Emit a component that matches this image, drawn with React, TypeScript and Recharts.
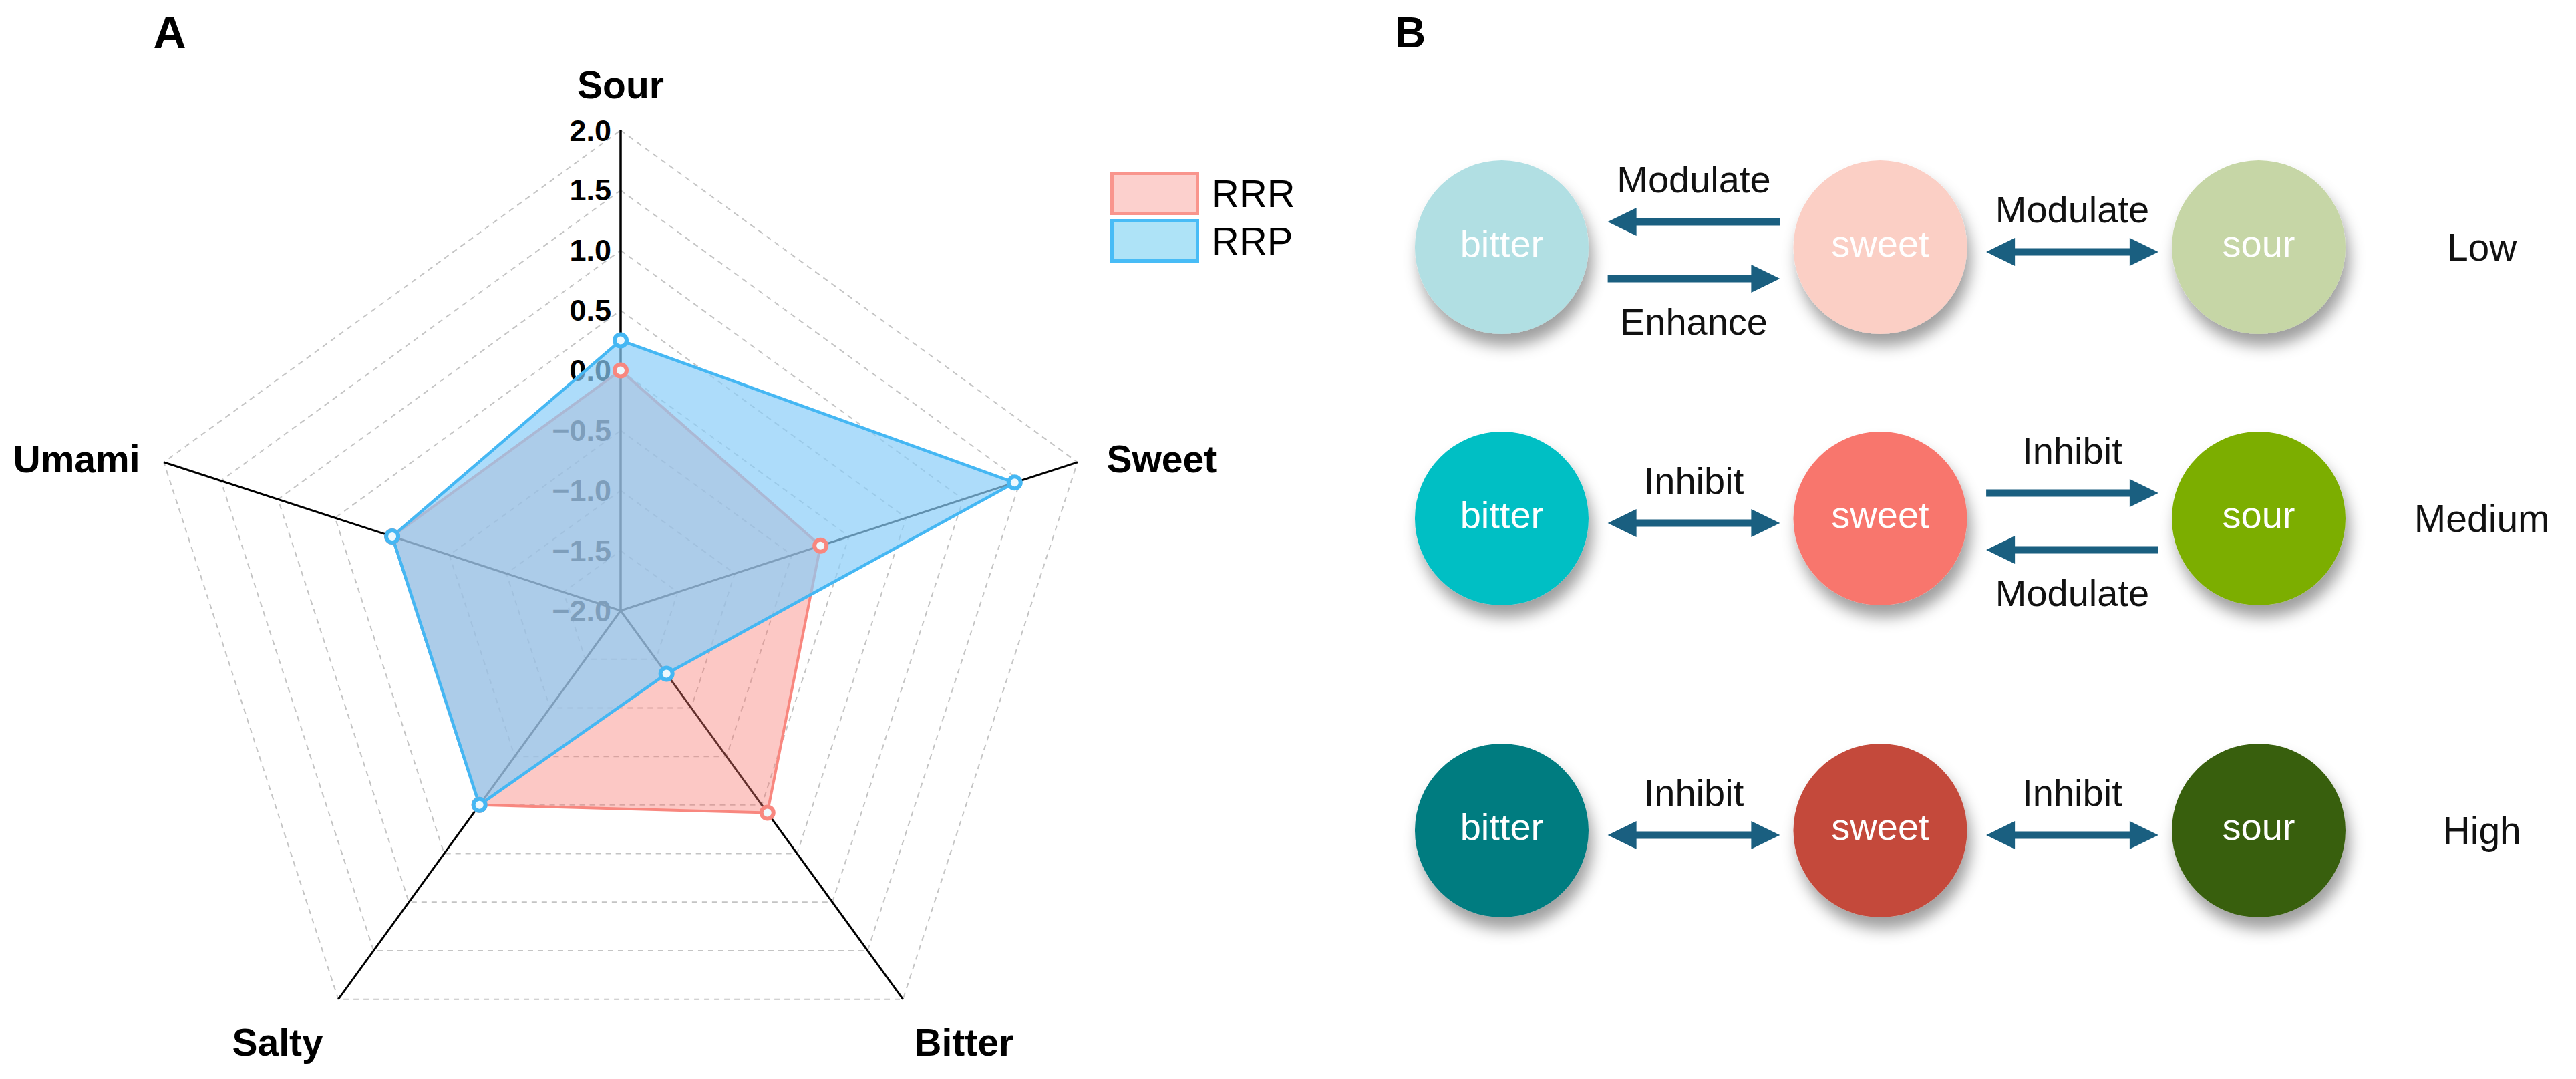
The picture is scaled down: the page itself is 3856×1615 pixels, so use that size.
import React from 'react';
import {
  RadarChart, Radar, PolarGrid, PolarAngleAxis, PolarRadiusAxis, Legend,
  ScatterChart, Scatter, XAxis, YAxis, ReferenceLine,
} from 'recharts';

const FONT = '"Liberation Sans", Arial, Helvetica, sans-serif';

// ---------------- Panel A data ----------------
const tasteAxes = ['Sour', 'Sweet', 'Bitter', 'Salty', 'Umami'];
const rrrValues = [0.0, -0.25, 0.08, 0.0, 0.0];
const rrpValues = [0.25, 1.45, -1.35, 0.0, 0.0];
const radiusTicks = [-2, -1.5, -1, -0.5, 0, 0.5, 1, 1.5, 2];
const seriesNames = ['RRR', 'RRP'];

const radarData = tasteAxes.map((t, i) => ({ subject: t, RRR: rrrValues[i], RRP: rrpValues[i] }));

// ---------------- Panel B data ----------------
const tasteNodes = ['bitter', 'sweet', 'sour'];
const levels = ['Low', 'Medium', 'High'];
const levelRow = [1, 2, 3.15];
const interactions = [
  { level: 'Low', left: 'bitter', dir: 'left', lane: 'upper', label: 'Modulate', side: 'above' },
  { level: 'Low', left: 'bitter', dir: 'right', lane: 'lower', label: 'Enhance', side: 'below' },
  { level: 'Low', left: 'sweet', dir: 'both', lane: 'mid', label: 'Modulate', side: 'above' },
  { level: 'Medium', left: 'bitter', dir: 'both', lane: 'mid', label: 'Inhibit', side: 'above' },
  { level: 'Medium', left: 'sweet', dir: 'right', lane: 'upper', label: 'Inhibit', side: 'above' },
  { level: 'Medium', left: 'sweet', dir: 'left', lane: 'lower', label: 'Modulate', side: 'below' },
  { level: 'High', left: 'bitter', dir: 'both', lane: 'mid', label: 'Inhibit', side: 'above' },
  { level: 'High', left: 'sweet', dir: 'both', lane: 'mid', label: 'Inhibit', side: 'above' },
];

// ---------------- styles ----------------
const CX = 929;
const CY = 914;
const OUTER_R = 719;
const RRR_STROKE = '#F8877F';
const RRR_FILL = '#F8766D';
const RRP_STROKE = '#45B7F3';
const RRP_FILL = '#8ACDF8';
const legendStyle: any = {
  RRR: { fill: '#FCD0CD', border: '#F9958D' },
  RRP: { fill: '#AEE3F7', border: '#48BCF6' },
};
const nodePalette: any = {
  Low: { bitter: '#B1DFE3', sweet: '#FBCFC5', sour: '#C6D6A6' },
  Medium: { bitter: '#00BFC4', sweet: '#F8766D', sour: '#7CAE00' },
  High: { bitter: '#017B80', sweet: '#C4493A', sour: '#385E0C' },
};
const ARROW_COLOR = '#1A5F80';
const X_DOMAIN = [0.474, 3.8385];
const Y_DOMAIN = [0.0887, 4.066];
const ROW_UNIT_PX = 406;
const laneOffsetPx: any = { upper: -38, lower: 47, mid: 7 };

const fmtTick = (v: number) => (v < 0 ? '\u2212' + Math.abs(v).toFixed(1) : v.toFixed(1));

const RadiusTick = (props: any) => {
  const { x, y, payload } = props;
  return (
    <text x={x - 14} y={y} textAnchor="end" dominantBaseline="central"
      fontFamily={FONT} fontWeight="bold" fontSize={45} fill="#000">
      {fmtTick(payload.value)}
    </text>
  );
};

const AngleTick = (props: any) => {
  const { x, y, payload } = props;
  const dx = x - CX;
  const dy = y - CY;
  let anchor: any = 'middle';
  let tx = x;
  let ty = y;
  if (Math.abs(dx) < 5) {
    ty = y - 60;
  } else if (dy < 0) {
    anchor = dx > 0 ? 'start' : 'end';
    tx = x + (dx > 0 ? 36 : -28);
    ty = y - 2;
  } else {
    anchor = dx > 0 ? 'start' : 'end';
    tx = x + (dx > 0 ? 12 : -18);
    ty = y + 58;
  }
  return (
    <text x={tx} y={ty} textAnchor={anchor} dominantBaseline="central"
      fontFamily={FONT} fontWeight="bold" fontSize={57} fill="#000">
      {payload.value}
    </text>
  );
};

const makeDot = (color: string) => (p: any) => (
  <circle key={p.key ?? `${p.cx}-${p.cy}`} cx={p.cx} cy={p.cy} r={9} fill="#EEF8FD" stroke={color} strokeWidth={6} />
);

const renderLegend = (props: any) => {
  const payload = (props.payload || []).slice();
  const names = payload.length ? payload.map((e: any) => e.value) : seriesNames;
  const ordered = seriesNames.filter((n) => names.includes(n));
  return (
    <div>
      {ordered.map((name) => (
        <div key={name} style={{ display: 'flex', alignItems: 'center', height: 65, marginBottom: 6 }}>
          <div style={{ width: 123, height: 55, background: legendStyle[name].fill, border: `5px solid ${legendStyle[name].border}` }} />
          <span style={{ marginLeft: 18, fontSize: 58, fontFamily: FONT, color: '#000', lineHeight: '65px' }}>{name}</span>
        </div>
      ))}
    </div>
  );
};

const PanelA = () => (
  <RadarChart width={1950} height={1615} data={radarData} cx={CX} cy={CY} outerRadius={OUTER_R}
    margin={{ top: 0, right: 0, bottom: 0, left: 0 }}>
    <PolarGrid gridType="polygon" radialLines={false} stroke="#C4C4C4" strokeWidth={2} strokeDasharray="8 7" />
    <PolarGrid gridType="polygon" polarRadius={[]} stroke="#000" strokeWidth={3} />
    <PolarAngleAxis dataKey="subject" tickLine={false} axisLine={false} tick={AngleTick} {...({ zIndex: -10 } as any)} />
    <PolarRadiusAxis angle={90} domain={[-2, 2]} ticks={radiusTicks as any} tickCount={9}
      axisLine={{ stroke: '#000', strokeWidth: 3 }} tickLine={false} tick={RadiusTick} {...({ zIndex: -10 } as any)} />
    <Radar name="RRR" dataKey="RRR" stroke={RRR_STROKE} strokeWidth={4} fill={RRR_FILL} fillOpacity={0.4}
      dot={makeDot(RRR_STROKE)} isAnimationActive={false} />
    <Radar name="RRP" dataKey="RRP" stroke={RRP_STROKE} strokeWidth={4.5} fill={RRP_FILL} fillOpacity={0.7}
      dot={makeDot(RRP_STROKE)} isAnimationActive={false} />
    <Legend layout="vertical" align="right" verticalAlign="top" content={renderLegend}
      wrapperStyle={{ left: 1662, top: 257, width: 320 }} />
  </RadarChart>
);

// ---------------- Panel B ----------------
const nodes = levels.flatMap((lv, r) =>
  tasteNodes.map((t, c) => ({ x: c + 1, y: levelRow[r], name: t, level: lv })));
const levelLabels = levels.map((lv, r) => ({ x: 3.59, y: levelRow[r], name: lv }));

const NodeShape = (props: any) => {
  const { cx, cy, payload } = props;
  return (
    <g>
      <circle cx={cx} cy={cy} r={130} fill={nodePalette[payload.level][payload.name]} filter="url(#nodeShadow)" />
      <text x={cx} y={cy - 6} textAnchor="middle" dominantBaseline="central" fill="#fff"
        fontSize={56} fontFamily={FONT}>{payload.name}</text>
    </g>
  );
};

const LevelShape = (props: any) => {
  const { cx, cy, payload } = props;
  return (
    <text x={cx} y={cy} textAnchor="middle" dominantBaseline="central" fill="#111"
      fontSize={57} fontFamily={FONT}>{payload.name}</text>
  );
};

const ArrowShape = (props: any) => {
  const { x1, y1, x2, y2, dir, label, side } = props;
  const HL = 43, HW = 21, SW = 11;
  const left = Math.min(x1, x2);
  const right = Math.max(x1, x2);
  const y = (y1 + y2) / 2;
  const headL = dir === 'left' || dir === 'both';
  const headR = dir === 'right' || dir === 'both';
  const ls = headL ? left + HL - 2 : left;
  const le = headR ? right - HL + 2 : right;
  return (
    <g>
      <line x1={ls} y1={y} x2={le} y2={y} stroke={ARROW_COLOR} strokeWidth={SW} />
      {headL && <polygon points={`${left},${y} ${left + HL},${y - HW} ${left + HL},${y + HW}`} fill={ARROW_COLOR} />}
      {headR && <polygon points={`${right},${y} ${right - HL},${y - HW} ${right - HL},${y + HW}`} fill={ARROW_COLOR} />}
      <text x={(left + right) / 2} y={y + (side === 'below' ? 64 : -64)} textAnchor="middle"
        dominantBaseline="central" fill="#111" fontSize={56} fontFamily={FONT}>{label}</text>
    </g>
  );
};

const PanelB = () => (
  <ScatterChart width={1906} height={1615} margin={{ top: 0, right: 0, bottom: 0, left: 0 }}>
    <XAxis type="number" dataKey="x" domain={X_DOMAIN} hide allowDataOverflow />
    <YAxis type="number" dataKey="y" domain={Y_DOMAIN} reversed hide allowDataOverflow />
    {interactions.map((a, i) => {
      const col = tasteNodes.indexOf(a.left) + 1;
      const y = levelRow[levels.indexOf(a.level)] + laneOffsetPx[a.lane] / ROW_UNIT_PX;
      return (
        <ReferenceLine key={i} segment={[{ x: col + 0.28, y }, { x: col + 0.735, y }]} ifOverflow="visible"
          shape={(p: any) => <ArrowShape {...p} dir={a.dir} label={a.label} side={a.side} />} />
      );
    })}
    <Scatter data={nodes} shape={NodeShape} isAnimationActive={false} />
    <Scatter data={levelLabels} shape={LevelShape} isAnimationActive={false} />
  </ScatterChart>
);

export default function App() {
  return (
    <div style={{ position: 'absolute', left: 0, top: 0, width: 3856, height: 1615, background: '#fff', fontFamily: FONT }}>
      <svg width={0} height={0} style={{ position: 'absolute' }}>
        <defs>
          <filter id="nodeShadow" x="-40%" y="-40%" width="180%" height="190%">
            <feDropShadow dx="6" dy="18" stdDeviation="11" floodColor="#000" floodOpacity="0.38" />
          </filter>
        </defs>
      </svg>
      <div style={{ position: 'absolute', left: 0, top: 0 }}>
        <PanelA />
      </div>
      <div style={{ position: 'absolute', left: 1950, top: 0 }}>
        <PanelB />
      </div>
      <svg width={3856} height={120} style={{ position: 'absolute', left: 0, top: 0, pointerEvents: 'none' }}>
        <text x={254} y={72} textAnchor="middle" fontFamily={FONT} fontWeight="bold" fontSize={68} fill="#000">A</text>
        <text x={2111} y={71} textAnchor="middle" fontFamily={FONT} fontWeight="bold" fontSize={64} fill="#000">B</text>
      </svg>
    </div>
  );
}
